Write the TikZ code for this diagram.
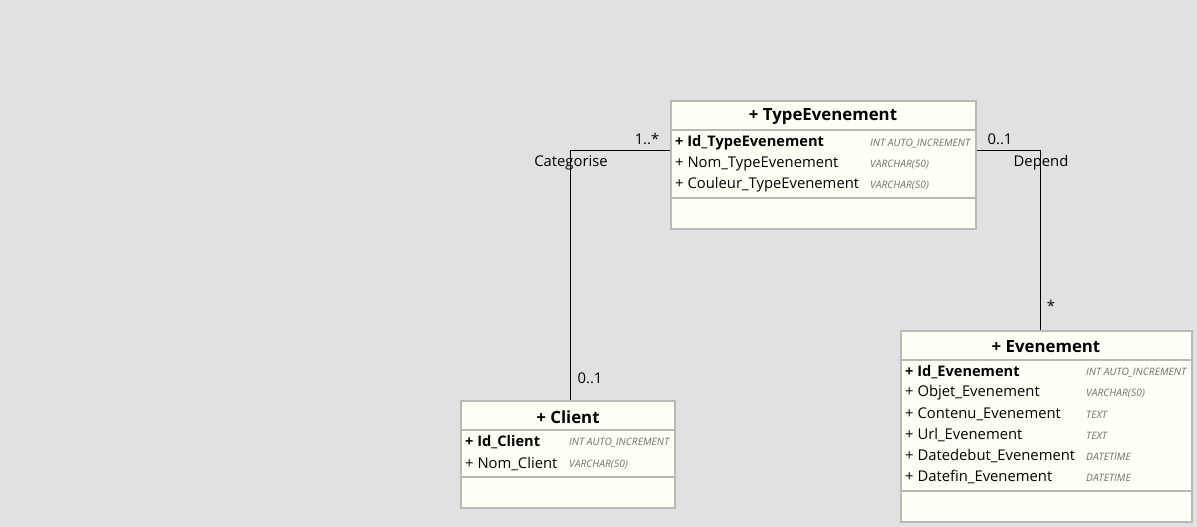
\documentclass[tikz,border=0pt]{standalone}
\usepackage{fontspec}
\setmainfont{Open Sans}
\usetikzlibrary{positioning}
\definecolor{bgray}{HTML}{E1E1E1}
\definecolor{ivory}{HTML}{FFFFF5}
\definecolor{frame}{HTML}{B9B9B9}
\definecolor{typegray}{HTML}{707070}

\begin{document}
\begin{tikzpicture}[x=1pt,y=-1pt,
    classbox/.style={draw=frame,line width=1.8pt,fill=ivory,anchor=north west,inner sep=0pt},
    title/.style={font=\fontsize{16.8}{18}\selectfont\bfseries},
    attr/.style={anchor=west,inner sep=0pt,font=\fontsize{14.8}{16}\selectfont},
    keyattr/.style={attr,font=\fontsize{14.6}{16}\selectfont\bfseries},
    dtype/.style={anchor=west,inner sep=0pt,text=typegray,font=\fontsize{10.2}{11}\selectfont\itshape},
    rolelabel/.style={inner sep=0pt,font=\fontsize{14.8}{16}\selectfont}]
    \fill[bgray] (0,0) rectangle (1197,527);
    \useasboundingbox (0,0) rectangle (1197,527);

    % TypeEvenement
    \node[classbox,minimum width=305pt,minimum height=128pt] (typeE) at (670,100) {};
    \draw[frame,line width=1.8pt] (670,130) -- (975,130) (670,198) -- (975,198);
    \node[title] (typeEtitle) at (823,117) {+ TypeEvenement};
    \node[keyattr] (typeEid) at (675,143) {+ Id\_TypeEvenement};
    \node[attr] (typeEnom) at (675,164) {+ Nom\_TypeEvenement};
    \node[attr] (typeEcoul) at (675,185) {+ Couleur\_TypeEvenement};
    \node[dtype] at (870,144) {INT AUTO\_INCREMENT};
    \node[dtype] at (870,165) {VARCHAR(50)};
    \node[dtype] at (870,186) {VARCHAR(50)};

    % Client
    \node[classbox,minimum width=214pt,minimum height=107pt] (client) at (460,400) {};
    \draw[frame,line width=1.8pt] (460,430) -- (674,430) (460,477) -- (674,477);
    \node[title] (clienttitle) at (568,417) {+ Client};
    \node[keyattr] (clientid) at (465,442) {+ Id\_Client};
    \node[attr] (clientnom) at (465,464) {+ Nom\_Client};
    \node[dtype] at (569,443) {INT AUTO\_INCREMENT};
    \node[dtype] at (569,465) {VARCHAR(50)};

    % Evenement
    \node[classbox,minimum width=291pt,minimum height=191pt] (even) at (900,330) {};
    \draw[frame,line width=1.8pt] (900,360) -- (1191,360) (900,491) -- (1191,491);
    \node[title] (eventitle) at (1046,347) {+ Evenement};
    \node[keyattr] (evenid) at (905,372) {+ Id\_Evenement};
    \foreach \y/\name/\type in {393/Objet/VARCHAR(50),414/Contenu/TEXT,435/Url/TEXT,
        456/Datedebut/DATETIME,477/Datefin/DATETIME}{
      \node[attr] at (905,\y) {+ \name\_Evenement};
      \node[dtype] at (1086,\y+1) {\type};
    }
    \node[dtype] at (1086,373) {INT AUTO\_INCREMENT};

    % associations
    \coordinate (catbend) at (570,150);
    \coordinate (depbend) at (1040,150);
    \draw[line width=0.8pt] (typeE.west |- catbend) -- (catbend) -- (catbend |- client.north);
    \draw[line width=0.8pt] (typeE.east |- depbend) -- (depbend) -- (depbend |- even.north);
    \node[rolelabel] (catname) at (571,163) {Categorise};
    \node[rolelabel] (catmult1) at (647,139) {1..*};
    \node[rolelabel] (catmult2) at (590,378) {0..1};
    \node[rolelabel] (depname) at (1041,163) {Depend};
    \node[rolelabel] (depmult1) at (1000,139) {0..1};
    \node[rolelabel] (depmult2) at (1051,306) {*};
\end{tikzpicture}
\end{document}
